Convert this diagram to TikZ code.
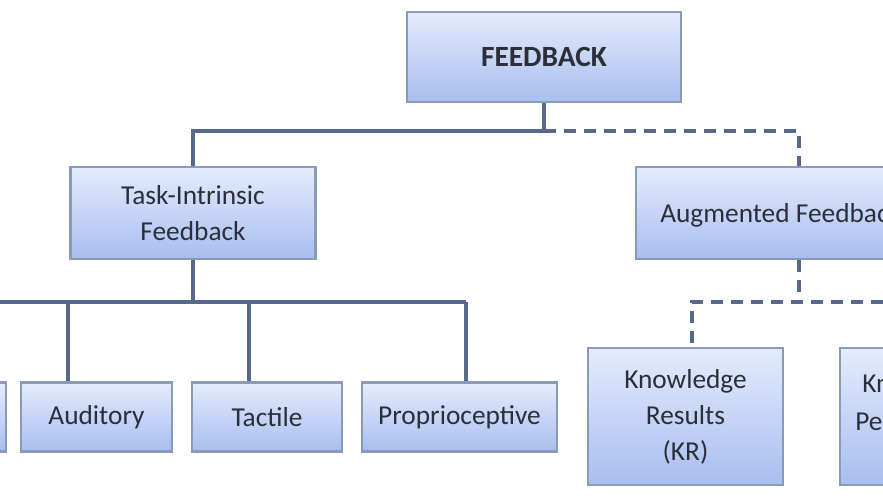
\documentclass[tikz,border=0pt]{standalone}
\usepackage{fontspec}
\setmainfont{Carlito}
\begin{document}
\begin{tikzpicture}[x=0.75pt,y=-0.75pt,
  box/.style={draw=boxedge,line width=1.6pt,top color=boxtop,bottom color=boxbot,inner sep=0pt,align=center,text=txt,font=\fontsize{20.5}{27}\selectfont},
  lbl/.style={text=txt,font=\fontsize{20.5}{27}\selectfont,inner sep=0pt,anchor=west},
  conn/.style={draw=linec,line width=2.4pt},
  dconn/.style={conn,dash pattern=on 9pt off 6pt}]
\definecolor{boxedge}{HTML}{8A9BB8}
\definecolor{boxtop}{HTML}{E4ECFC}
\definecolor{boxbot}{HTML}{A8BEF0}
\definecolor{txt}{HTML}{2A2F3A}
\definecolor{linec}{HTML}{56698C}
\useasboundingbox (0,0) rectangle (883,499);
\clip (0,0) rectangle (883,499);
\node[box,minimum width=274*0.75pt,minimum height=90*0.75pt,font=\bfseries\fontsize{22}{25}\selectfont] (fb) at (544,57) {FEEDBACK};
\node[box,minimum width=245*0.75pt,minimum height=92*0.75pt] (ti) at (193,213) {Task-Intrinsic\\Feedback};
\node[box,minimum width=300*0.75pt,minimum height=92*0.75pt,anchor=west] (af) at (635,213) {};
\node[lbl] (aft) at (660,215) {Augmented Feedback};
\node[box,minimum width=120*0.75pt,minimum height=69*0.75pt] (vis) at (-54,417) {};
\node[box,minimum width=151*0.75pt,minimum height=69*0.75pt] (aud) at (96.5,417) {Auditory};
\node[box,minimum width=150*0.75pt,minimum height=69*0.75pt] (tac) at (267,417) {Tactile};
\node[box,minimum width=195*0.75pt,minimum height=69*0.75pt] (pro) at (459.5,417) {Proprioceptive};
\node[box,minimum width=195*0.75pt,minimum height=137*0.75pt] (kr) at (685.5,416.5) {Knowledge\\Results\\(KR)};
\node[box,minimum width=195*0.75pt,minimum height=137*0.75pt,anchor=west] (kp) at (839,416.5) {};
\node[lbl] (kpa) at (862,385) {Knowledge};
\node[lbl] (kpb) at (855,421) {Performance};
\coordinate (j1) at (544,131);
\coordinate (j2) at (193,302);
\coordinate (j3) at (799,302);
\draw[conn] (fb.south) -- (j1) -| (ti.north);
\draw[dconn] (j1) -- (799,131) -- (af.north -| 799,0);
\draw[conn] (ti.south) -- (j2);
\draw[conn] (0,302) -- (466,302);
\draw[conn] (68,302) -- (aud.north -| 68,0);
\draw[conn] (249,302) -- (tac.north -| 249,0);
\draw[conn] (466,302) -- (pro.north -| 466,0);
\draw[dconn] (af.south -| 799,0) -- (j3);
\draw[dconn] (883,302) -- (692,302) -- (kr.north -| 692,0);
\end{tikzpicture}
\end{document}
